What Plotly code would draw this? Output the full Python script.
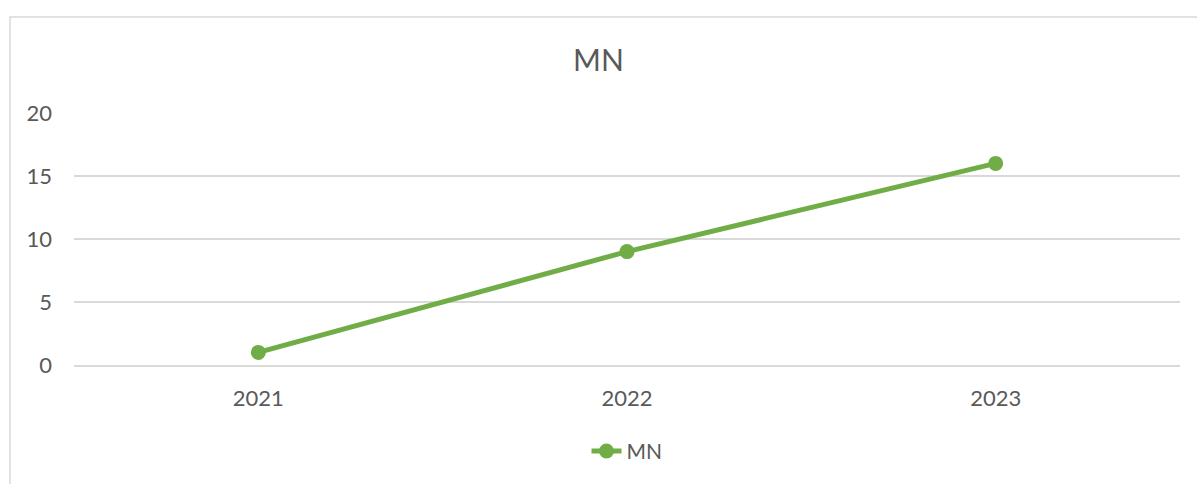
import plotly.graph_objects as go

categories = ["2021", "2022", "2023"]
values = [1, 9, 16]
series_name = "MN"
y_ticks = [0, 5, 10, 15, 20]

W, H = 1197, 484
L, R, T, B = 74, 17, 113, 114
pw, ph = W - L - R, H - T - B

def px_x(x):
    return (x - L) / pw

def px_y(y):
    return (H - B - y) / ph

fig = go.Figure()
fig.add_trace(go.Scatter(
    x=categories, y=values, name=series_name, mode="lines+markers",
    line=dict(color="#70AD47", width=5),
    marker=dict(color="#70AD47", size=15),
))

font_family = "Lato, 'Open Sans', sans-serif"
fig.update_layout(
    width=W, height=H,
    margin=dict(l=L, r=R, t=T, b=B),
    paper_bgcolor="white", plot_bgcolor="white",
    title=dict(text="MN", x=0.5, xanchor="center", y=1 - 60 / H, yanchor="middle",
               font=dict(family=font_family, size=30, color="#595959")),
    font=dict(family=font_family, size=22, color="#595959"),
    showlegend=True,
    legend=dict(orientation="h", x=0.5, xanchor="center", y=px_y(458), yanchor="middle",
                font=dict(size=21, color="#595959")),
    xaxis=dict(type="category", showgrid=False, showline=True, linecolor="#d9d9d9",
               linewidth=1.5, ticks="", ticklabelstandoff=13, zeroline=False,
               range=[-0.5, 2.5]),
    yaxis=dict(range=[0, 20], tickvals=y_ticks, showgrid=True, gridcolor="#d9d9d9",
               gridwidth=1.5, zeroline=False, showline=False, ticks="",
               ticklabelstandoff=21),
    shapes=[dict(type="rect", xref="paper", yref="paper",
                 x0=px_x(10), x1=px_x(W + 20), y0=px_y(H + 20), y1=px_y(15),
                 line=dict(color="#d9d9d9", width=1.5), layer="below")],
)

fig.write_html("out.html", config={"displayModeBar": False},
               post_script="document.body.style.margin='0';document.body.style.overflow='hidden';")
